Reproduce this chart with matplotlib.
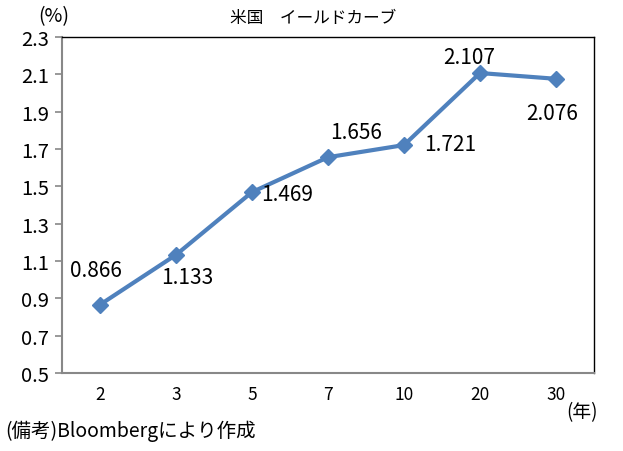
import matplotlib
matplotlib.use("Agg")
import matplotlib.pyplot as plt

plt.rcParams['font.family'] = ['Noto Sans CJK JP', 'DejaVu Sans']

categories = ["2", "3", "5", "7", "10", "20", "30"]
yields = [0.866, 1.133, 1.469, 1.656, 1.721, 2.107, 2.076]
yticks = [0.5, 0.7, 0.9, 1.1, 1.3, 1.5, 1.7, 1.9, 2.1, 2.3]

# label offsets in pixels (dx, dy) relative to each point
label_offsets = [(-4, 35), (11, -22), (35, -2), (28, 25), (46, 1), (-11, 16), (-4, -34)]

fig = plt.figure(figsize=(6.23, 4.52), dpi=100)
ax = fig.add_axes([62/623, 1-374/452, (594-62)/623, (374-38)/452])

x = list(range(len(categories)))
ax.plot(x, yields, color='#4F81BD', linewidth=3, marker='D', markersize=8,
        markerfacecolor='#4F81BD', markeredgecolor='#4F81BD', zorder=3)

for xi, v, (dx, dy) in zip(x, yields, label_offsets):
    ax.annotate(f"{v:.3f}", (xi, v), xytext=(dx, dy), textcoords='offset pixels',
                ha='center', va='center', fontsize=15, color='black')

ax.set_xlim(-0.5, len(categories) - 0.5)
ax.set_ylim(0.5, 2.3)
ax.set_yticks(yticks)
ax.set_yticklabels([f"{t:.1f}" for t in yticks], fontsize=14.5)
ax.set_xticks(x)
ax.set_xticklabels(categories, fontsize=12.5)
ax.tick_params(axis='x', length=0, pad=9)
ax.tick_params(axis='y', length=5, width=1.2, color='#888888', pad=4, direction='out')

for s in ['left', 'bottom']:
    ax.spines[s].set_color('#888888')
    ax.spines[s].set_linewidth(1.5)
for s in ['top', 'right']:
    ax.spines[s].set_color('black')
    ax.spines[s].set_linewidth(1.0)

fig.text(313/623, 1-18/452, "米国　イールドカーブ", ha='center', va='center', fontsize=12)
fig.text(54/623, 1-17/452, "(%)", ha='center', va='center', fontsize=14)
fig.text(582/623, 1-413/452, "(年)", ha='center', va='center', fontsize=13.5)
fig.text(5/623, 1-431/452, "(備考)Bloombergにより作成", ha='left', va='center', fontsize=14)

fig.savefig("out.png", dpi=100)
